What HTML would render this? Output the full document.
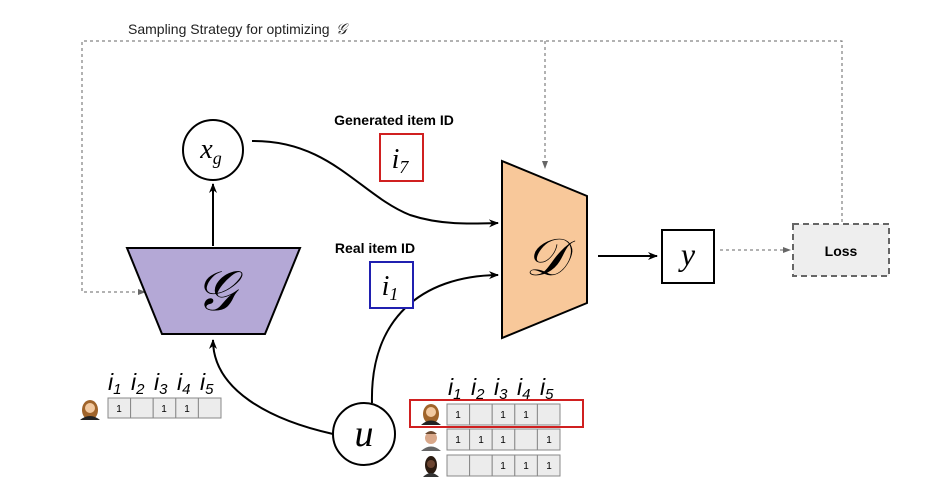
<!DOCTYPE html>
<html><head><meta charset="utf-8"><style>
body{margin:0;background:#fff;}
svg text{font-family:"Liberation Sans",sans-serif;}
.m{font-family:"Liberation Serif",serif;font-style:italic;}
</style></head><body>
<svg width="944" height="485" viewBox="0 0 944 485" xmlns="http://www.w3.org/2000/svg">
<defs>
<marker id="a" markerWidth="10" markerHeight="10" refX="9" refY="5" orient="auto" markerUnits="userSpaceOnUse"><path d="M0,1 L10,5 L0,9 L3,5 Z" fill="#000"/></marker>
<marker id="g" markerWidth="8" markerHeight="8" refX="7" refY="4" orient="auto" markerUnits="userSpaceOnUse"><path d="M0,1 L8,4 L0,7 Z" fill="#666"/></marker>
</defs>
<text x="128" y="34" font-size="14" fill="#222">Sampling Strategy for optimizing</text>
<text x="336" y="34" font-size="15" class="m" fill="#222">𝒢</text>
<g stroke="#666" stroke-width="1" stroke-dasharray="3,3" fill="none">
<path d="M842,222 V41 H82 V292 H145" marker-end="url(#g)"/>
<path d="M545,41 V168" marker-end="url(#g)"/>
<path d="M720,250 H790" marker-end="url(#g)"/>
</g>
<polygon points="127,248 300,248 265,334 162,334" fill="#b4a8d6" stroke="#000" stroke-width="2"/>
<text x="215" y="310" font-size="56" class="m" text-anchor="middle">𝒢</text>
<polygon points="502,161 587,196 587,303 502,338" fill="#f8c89a" stroke="#000" stroke-width="2"/>
<text x="546" y="275" font-size="52" class="m" text-anchor="middle">𝒟</text>
<circle cx="213" cy="150" r="30" fill="#fff" stroke="#000" stroke-width="2"/>
<text x="211" y="158" font-size="28" class="m" text-anchor="middle">x<tspan font-size="18" dy="6">g</tspan></text>
<circle cx="364" cy="434" r="31" fill="#fff" stroke="#000" stroke-width="2"/>
<text x="364" y="446" font-size="38" class="m" text-anchor="middle">u</text>
<path d="M213,246 V184" stroke="#000" stroke-width="2" marker-end="url(#a)"/>
<path d="M333,434 C270,420 213,390 213,340" stroke="#000" stroke-width="2" fill="none" marker-end="url(#a)"/>
<path d="M252,141 C330,140 360,195 410,215 C440,225 470,224 498,223" stroke="#000" stroke-width="2" fill="none" marker-end="url(#a)"/>
<path d="M372,403 C370,320 420,276 498,275" stroke="#000" stroke-width="2" fill="none" marker-end="url(#a)"/>
<path d="M598,256 H657" stroke="#000" stroke-width="2" marker-end="url(#a)"/>
<rect x="662" y="230" width="52" height="53" fill="#fff" stroke="#000" stroke-width="2"/>
<text x="688" y="265" font-size="32" class="m" text-anchor="middle">y</text>
<rect x="793" y="224" width="96" height="52" fill="#eee" stroke="#666" stroke-width="2" stroke-dasharray="6,4"/>
<text x="841" y="256" font-size="14" font-weight="bold" text-anchor="middle">Loss</text>
<text x="394" y="125" font-size="14" font-weight="bold" text-anchor="middle">Generated item ID</text>
<rect x="380" y="134" width="43" height="47" fill="#fff" stroke="#d02020" stroke-width="2"/>
<text x="400" y="168" font-size="28" class="m" text-anchor="middle">i<tspan font-size="18" dy="5">7</tspan></text>
<text x="375" y="253" font-size="14" font-weight="bold" text-anchor="middle">Real item ID</text>
<rect x="370" y="262" width="43" height="46" fill="#fff" stroke="#2020b0" stroke-width="2"/>
<text x="390" y="295" font-size="28" class="m" text-anchor="middle">i<tspan font-size="18" dy="5">1</tspan></text>
<g font-size="23" class="m">
<text x="108" y="390">i<tspan font-size="15" dy="4">1</tspan></text>
<text x="131" y="390">i<tspan font-size="15" dy="4">2</tspan></text>
<text x="154" y="390">i<tspan font-size="15" dy="4">3</tspan></text>
<text x="177" y="390">i<tspan font-size="15" dy="4">4</tspan></text>
<text x="200" y="390">i<tspan font-size="15" dy="4">5</tspan></text>
<text x="448" y="395">i<tspan font-size="15" dy="4">1</tspan></text>
<text x="471" y="395">i<tspan font-size="15" dy="4">2</tspan></text>
<text x="494" y="395">i<tspan font-size="15" dy="4">3</tspan></text>
<text x="517" y="395">i<tspan font-size="15" dy="4">4</tspan></text>
<text x="540" y="395">i<tspan font-size="15" dy="4">5</tspan></text>
</g>
<g stroke="#888" stroke-width="1" fill="#ececec">
<rect x="108" y="398" width="22.6" height="20"/><rect x="130.6" y="398" width="22.6" height="20"/><rect x="153.2" y="398" width="22.6" height="20"/><rect x="175.8" y="398" width="22.6" height="20"/><rect x="198.4" y="398" width="22.6" height="20"/>
<rect x="447" y="404" width="22.6" height="21"/><rect x="469.6" y="404" width="22.6" height="21"/><rect x="492.2" y="404" width="22.6" height="21"/><rect x="514.8" y="404" width="22.6" height="21"/><rect x="537.4" y="404" width="22.6" height="21"/>
<rect x="447" y="429" width="22.6" height="21"/><rect x="469.6" y="429" width="22.6" height="21"/><rect x="492.2" y="429" width="22.6" height="21"/><rect x="514.8" y="429" width="22.6" height="21"/><rect x="537.4" y="429" width="22.6" height="21"/>
<rect x="447" y="455" width="22.6" height="21"/><rect x="469.6" y="455" width="22.6" height="21"/><rect x="492.2" y="455" width="22.6" height="21"/><rect x="514.8" y="455" width="22.6" height="21"/><rect x="537.4" y="455" width="22.6" height="21"/>
</g>
<g font-size="10" text-anchor="middle">
<text x="119" y="412">1</text><text x="164" y="412">1</text><text x="187" y="412">1</text>
<text x="458" y="418">1</text><text x="503" y="418">1</text><text x="526" y="418">1</text>
<text x="458" y="443">1</text><text x="481" y="443">1</text><text x="503" y="443">1</text><text x="549" y="443">1</text>
<text x="503" y="469">1</text><text x="526" y="469">1</text><text x="549" y="469">1</text>
</g>
<rect x="410" y="400" width="173" height="27" fill="none" stroke="#d02020" stroke-width="2"/>
<g>
<ellipse cx="90" cy="410" rx="8" ry="10" fill="#a0642a"/><circle cx="90" cy="408" r="5" fill="#f2c9a0"/><path d="M80,420 Q90,412 100,420 Z" fill="#222"/>
<ellipse cx="431" cy="414" rx="8" ry="10" fill="#a0642a"/><circle cx="431" cy="412" r="5" fill="#f2c9a0"/><path d="M421,425 Q431,416 441,425 Z" fill="#222"/>
<circle cx="431" cy="438" r="6" fill="#d9a88a"/><path d="M425,434 Q431,428 437,434 Z" fill="#6b4a30"/><path d="M421,451 Q431,442 441,451 Z" fill="#666"/>
<ellipse cx="431" cy="465" rx="6" ry="9" fill="#2a1a10"/><circle cx="431" cy="464" r="4" fill="#6b4430"/><path d="M423,477 Q431,469 439,477 Z" fill="#333"/>
</g>
</svg>
</body></html>
